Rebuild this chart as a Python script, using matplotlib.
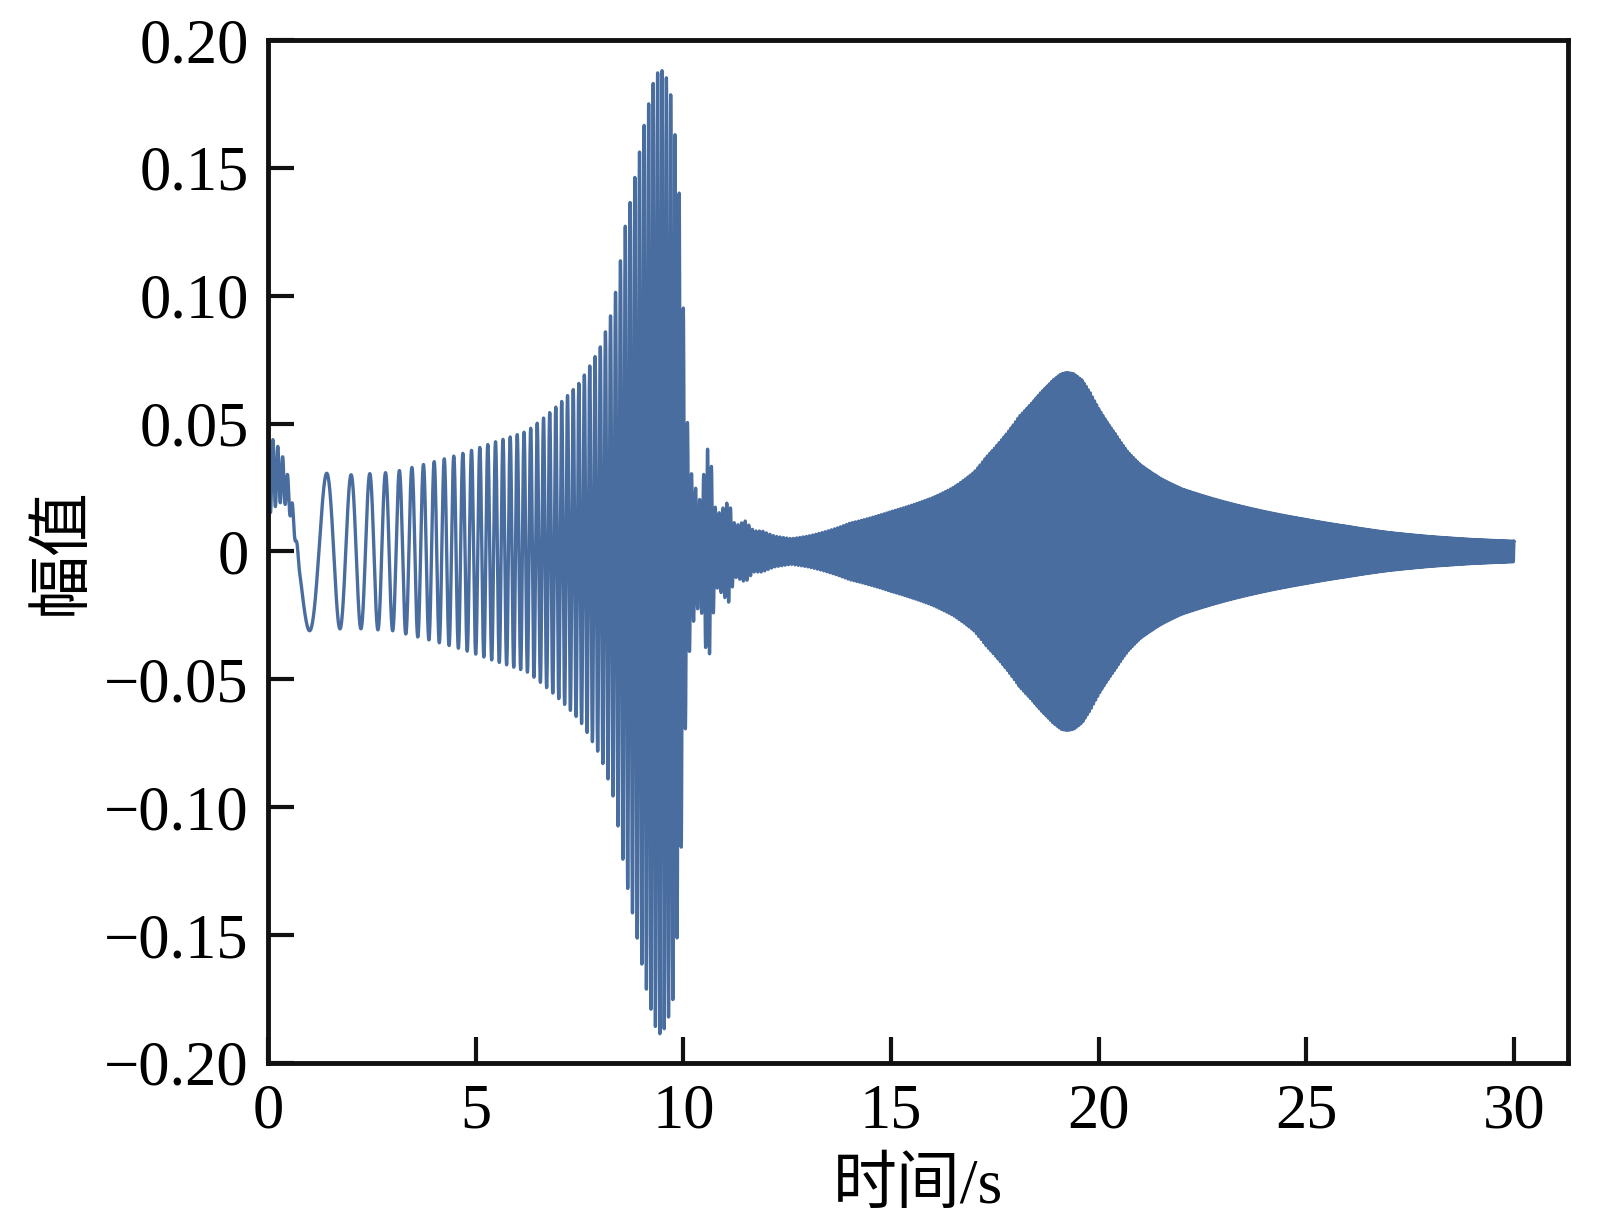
import numpy as np
import matplotlib
matplotlib.use("Agg")
import matplotlib.pyplot as plt

# ---- data ----
# upper envelope of the response (s, amplitude)
env_t = [0.0, 1.0, 2.0, 3.0, 3.97, 4.62, 5.42, 6.23, 6.62, 7.03, 7.5, 8.0, 8.3,
         8.6, 8.84, 9.08, 9.3, 9.45, 9.6, 9.75, 9.9, 10.0, 10.1, 10.2, 10.4,
         10.55, 10.65, 10.8, 11.0, 11.1, 11.25, 11.5, 11.7, 11.9, 12.2, 12.6,
         13.0, 14.0, 15.0, 16.0, 16.5, 17.0, 17.3, 17.63, 18.1, 18.6, 18.9, 19.1, 19.24,
         19.4, 19.6, 19.8, 20.03, 20.4, 20.7, 21.0, 21.5, 22.0, 23.0, 24.0, 25.0, 26.0,
         27.0, 28.0, 29.0, 30.0]
env_a = [0.030, 0.031, 0.030, 0.031, 0.035, 0.038, 0.0426, 0.047, 0.052, 0.058, 0.066, 0.080, 0.095,
         0.127, 0.147, 0.169, 0.185, 0.189, 0.185, 0.175, 0.140, 0.095, 0.050, 0.030, 0.020,
         0.040, 0.040, 0.014, 0.018, 0.020, 0.010, 0.012, 0.008, 0.008, 0.006, 0.005,
         0.006, 0.011, 0.0156, 0.021, 0.025, 0.031, 0.037, 0.043, 0.053, 0.062, 0.067, 0.0695, 0.070,
         0.0695, 0.067, 0.062, 0.055, 0.046, 0.039, 0.034, 0.0285, 0.0245, 0.0195, 0.0156, 0.0125, 0.0098,
         0.0074, 0.0058, 0.0047, 0.004]
# sweep rate of the excitation (Hz per s) and transient ripple at the start
sweep_rate = 1.0
ripple_t = [0.0, 0.3, 0.6, 0.8]
ripple_a = [0.016, 0.010, 0.004, 0.0]
ripple_freq = 8.5

x_ticks = [0, 5, 10, 15, 20, 25, 30]
y_ticks = [0.20, 0.15, 0.10, 0.05, 0, -0.05, -0.10, -0.15, -0.20]
y_labels = ["0.20", "0.15", "0.10", "0.05", "0", "\u22120.05", "\u22120.10", "\u22120.15", "\u22120.20"]

t = np.linspace(0, 30, 120001)
envelope = np.exp(np.interp(t, env_t, np.log(env_a)))
sig = envelope * np.cos(np.pi * sweep_rate * t ** 2) \
    + np.interp(t, ripple_t, ripple_a) * np.cos(2 * np.pi * ripple_freq * t)

plt.rcParams['font.family'] = ['Liberation Serif', 'Noto Sans CJK SC']
fig = plt.figure(figsize=(16.06, 12.28), dpi=100)
ax = fig.add_axes([0.1669, 0.1344, 0.8094, 0.8330])
ax.plot(t, sig, color='#4a6da0', lw=2.4)
ax.set_xlim(0, 31.3)
ax.set_ylim(-0.2, 0.2)
ax.set_xticks(x_ticks)
ax.set_xticklabels([str(v) for v in x_ticks])
ax.set_yticks(y_ticks)
ax.set_yticklabels(y_labels)
ax.tick_params(direction='in', length=19, width=3, labelsize=45, top=False, right=False,
               color='#111111')
ax.tick_params(axis='y', pad=14)
ax.tick_params(axis='x', pad=15)
for s in ax.spines.values():
    s.set_linewidth(3.5)
    s.set_color('#111111')
ax.set_xlabel('时间/s', fontsize=46, labelpad=12)
ax.set_ylabel('幅值', fontsize=46, labelpad=8)
fig.savefig('out.png', dpi=100)
